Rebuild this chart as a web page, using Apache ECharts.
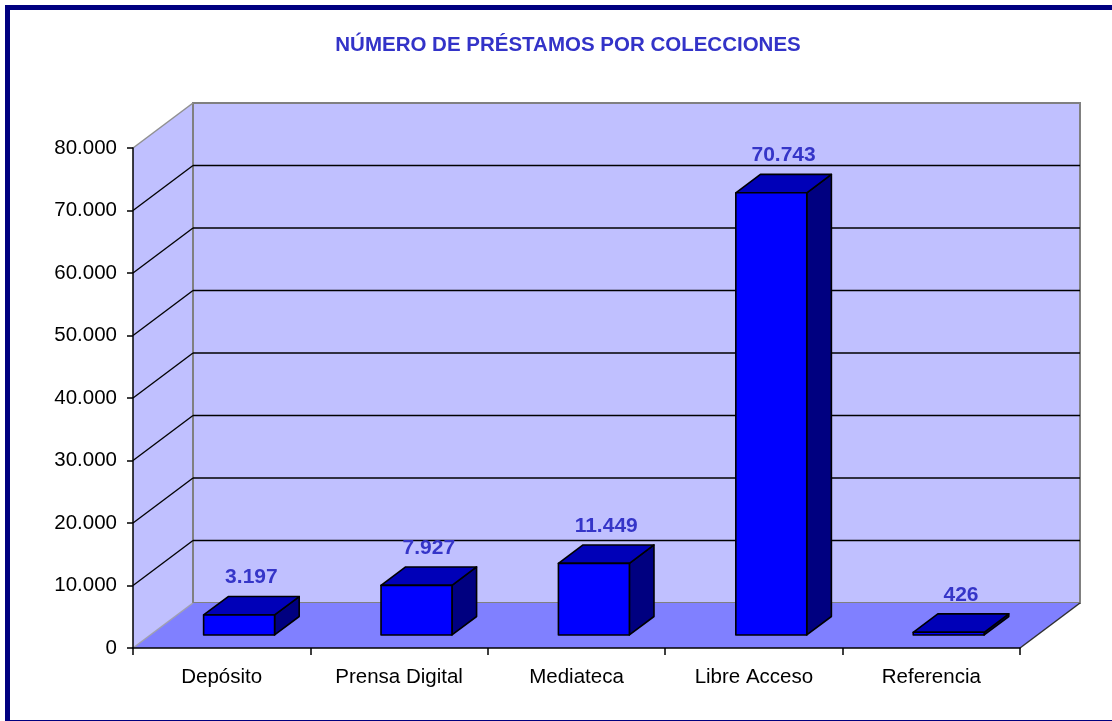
<!DOCTYPE html>
<html>
<head>
<meta charset="utf-8">
<script src="https://cdn.jsdelivr.net/npm/echarts@6/dist/echarts.min.js"></script>
<style>
html,body{margin:0;padding:0;background:#fff;}
#chart{width:1112px;height:721px;}
</style>
</head>
<body>
<div id="chart"></div>
<script>
const categories = ['Depósito', 'Prensa Digital', 'Mediateca', 'Libre Acceso', 'Referencia'];
const values = [3197, 7927, 11449, 70743, 426];
const yTicks = [0, 10000, 20000, 30000, 40000, 50000, 60000, 70000, 80000];
const titleText = 'NÚMERO DE PRÉSTAMOS POR COLECCIONES';

const DX = 60, DY = 45;          // depth of the 3D box (style)
const BAR_W = 0.4, BAR_F0 = 0.29, BAR_FD = 0.41;

function fmt(v) { return String(v).replace(/\B(?=(\d{3})+(?!\d))/g, '.'); }

const chart = echarts.init(document.getElementById('chart'), null, {renderer: 'canvas'});

function renderFrame(params, api) {
  const cs = params.coordSys;
  const x0 = cs.x, x1 = cs.x + cs.width;
  const yB = api.coord([0, yTicks[0]])[1];
  const yT = api.coord([0, yTicks[yTicks.length - 1]])[1];
  const children = [];
  children.push({type: 'polygon', shape: {points: [[x0, yT], [x0 + DX, yT - DY], [x0 + DX, yB - DY], [x0, yB]]},
    style: {fill: '#C0C0FF', stroke: null}});
  children.push({type: 'rect', shape: {x: x0 + DX, y: yT - DY, width: x1 - x0, height: yB - yT},
    style: {fill: '#C0C0FF', stroke: '#808080', lineWidth: 2}});
  children.push({type: 'polygon', shape: {points: [[x0, yB], [x1, yB], [x1 + DX, yB - DY], [x0 + DX, yB - DY]]},
    style: {fill: '#8080FF', stroke: null}});
  children.push({type: 'line', shape: {x1: x0, y1: yT, x2: x0 + DX, y2: yT - DY},
    style: {stroke: '#909090', lineWidth: 1.5}});
  children.push({type: 'line', shape: {x1: x0, y1: yB, x2: x0 + DX, y2: yB - DY},
    style: {stroke: '#A0A0B0', lineWidth: 1.5}});
  children.push({type: 'line', shape: {x1: x1, y1: yB, x2: x1 + DX, y2: yB - DY},
    style: {stroke: '#303030', lineWidth: 1.5}});
  for (let k = 1; k < yTicks.length - 1; k++) {
    const y = api.coord([0, yTicks[k]])[1];
    children.push({type: 'line', shape: {x1: x0, y1: y, x2: x0 + DX, y2: y - DY},
      style: {stroke: '#000', lineWidth: 1.3}});
    children.push({type: 'line', shape: {x1: x0 + DX, y1: y - DY, x2: x1 + DX, y2: y - DY},
      style: {stroke: '#000', lineWidth: 1.3}});
  }
  return {type: 'group', children: children};
}

function renderBar(params, api) {
  const i = api.value(0), v = api.value(1);
  const base = api.coord([i, 0]);
  const top = api.coord([i, v]);
  const band = api.size([1, 0])[0];
  const w = band * BAR_W;
  const ox = DX * BAR_F0, oy = -DY * BAR_F0;
  const dx = DX * BAR_FD, dy = -DY * BAR_FD;
  const xa = base[0] - w / 2 + ox, xb = xa + w;
  const yb = base[1] + oy, yt = top[1] + oy;
  const st = {stroke: '#000', lineWidth: 1.6, lineJoin: 'round'};
  return {type: 'group', children: [
    {type: 'polygon', shape: {points: [[xb, yt], [xb + dx, yt + dy], [xb + dx, yb + dy], [xb, yb]]},
      style: Object.assign({fill: '#000080'}, st)},
    {type: 'polygon', shape: {points: [[xa, yt], [xb, yt], [xb + dx, yt + dy], [xa + dx, yt + dy]]},
      style: Object.assign({fill: '#0000B8'}, st)},
    {type: 'rect', shape: {x: xa, y: yt, width: w, height: yb - yt},
      style: Object.assign({fill: '#0000FF'}, st)},
    {type: 'text', x: (xa + xb) / 2 + dx / 2, y: yt + dy - 19,
      style: {text: fmt(v), fill: '#3535C8', font: 'bold 21px "Liberation Sans", Arial, sans-serif',
        align: 'center', verticalAlign: 'middle'}}
  ]};
}

const option = {
  backgroundColor: '#fff',
  animation: false,
  title: {
    text: titleText, left: 563, top: 30, textAlign: 'center',
    textStyle: {color: '#3333C8', fontSize: 20.5, fontWeight: 'bold', fontFamily: '"Liberation Sans", Arial, sans-serif'}
  },
  graphic: [{
    type: 'rect', shape: {x: 7.5, y: 7.5, width: 1120, height: 715},
    style: {fill: null, stroke: '#000080', lineWidth: 5}, z: 100, silent: true
  }],
  grid: {left: 133, right: 92, top: 148, bottom: 73},
  xAxis: {
    type: 'category', data: categories, z: 10,
    axisLine: {lineStyle: {color: '#000', width: 1.5}},
    axisTick: {show: true, length: 7, lineStyle: {color: '#000', width: 1.5}},
    axisLabel: {color: '#000', fontSize: 20.5, margin: 19, fontFamily: '"Liberation Sans", Arial, sans-serif'},
    splitLine: {show: false}
  },
  yAxis: {
    type: 'value', min: 0, max: 80000, interval: 10000, z: 10,
    axisLine: {show: true, lineStyle: {color: '#000', width: 1.5}},
    axisTick: {show: true, length: 6, lineStyle: {color: '#000', width: 1.5}},
    axisLabel: {color: '#000', fontSize: 20.5, margin: 16, formatter: fmt,
      fontFamily: '"Liberation Sans", Arial, sans-serif'},
    splitLine: {show: false}
  },
  series: [
    {type: 'custom', silent: true, z: 1, renderItem: renderFrame, data: [[0, 0]]},
    {type: 'custom', silent: true, z: 5, renderItem: renderBar,
      data: values.map((v, i) => [i, v])}
  ]
};
chart.setOption(option);
</script>
</body>
</html>
